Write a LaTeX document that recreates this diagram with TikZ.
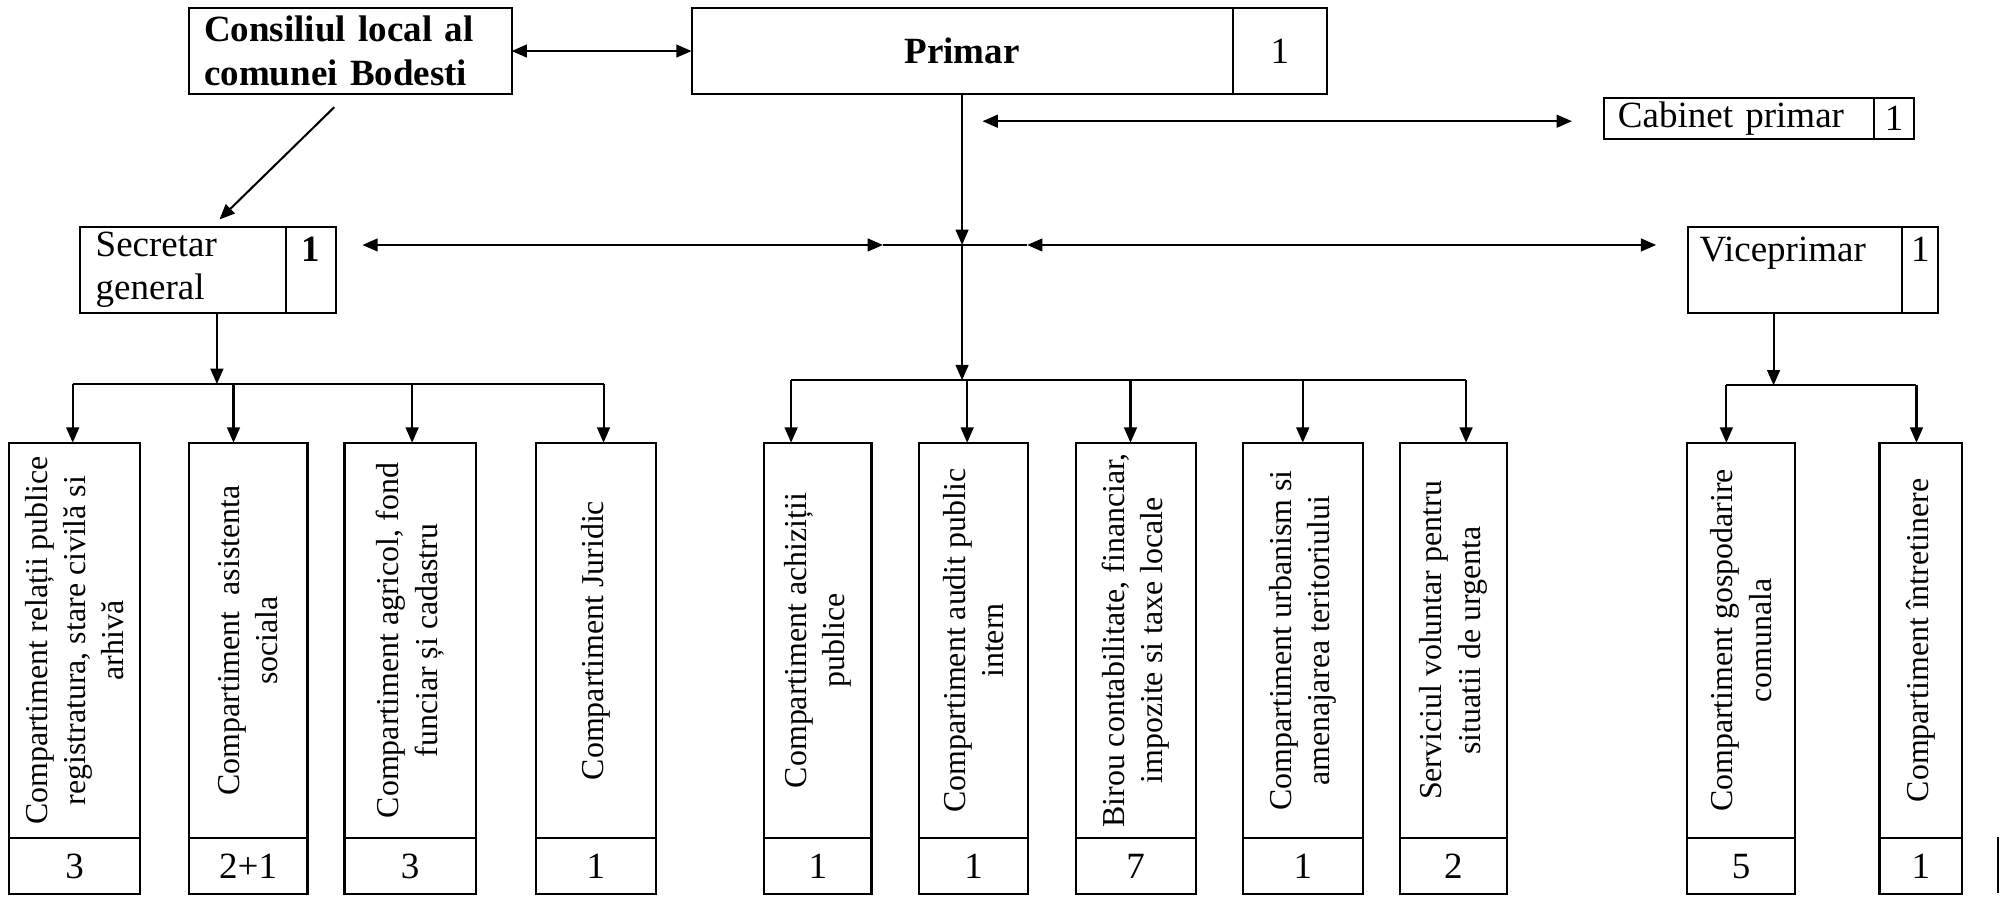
\documentclass[tikz,border=0pt]{standalone}
\usepackage{fontspec}
\setmainfont{Liberation Serif}
\usepackage{tikz}
\usetikzlibrary{arrows.meta}

\begin{document}
\begin{tikzpicture}[x=1pt, y=-1pt, line width=1.6pt,
                box/.style = {draw, inner sep=0pt, outer sep=0pt, font=\fontsize{29}{34}\selectfont},
                boldbox/.style = {box, font=\fontsize{29}{34}\selectfont\bfseries},
                unit/.style = {box, rotate=90, minimum width=310pt, align=center, font=\fontsize{25}{30}\selectfont},
                nr/.style = {box, minimum height=44pt},
                arr/.style = {-{Triangle[length=12pt, width=10pt]}},
                arr2/.style = {{Triangle[length=12pt, width=10pt]}-{Triangle[length=12pt, width=10pt]}}]
                \useasboundingbox (0, 0) rectangle (1570.6, 703);

                \node[boldbox, minimum width=253pt, minimum height=68pt, text width=229pt, align=left] at (274.5, 40) (cons) {Consiliul local al\\comunei Bodesti};
                \node[boldbox, minimum width=424pt, minimum height=68pt] at (754, 40) (prim) {Primar};
                \node[box, minimum width=74pt, minimum height=68pt] at (1003, 40) (primnr) {1};
                \node[box, minimum width=212pt, minimum height=32pt, text width=190pt, align=left] at (1363, 93) (cab) {Cabinet primar};
                \node[box, minimum width=31pt, minimum height=32pt] at (1484.5, 93) (cabnr) {1};

                \node[box, minimum width=161pt, minimum height=67pt, text width=137pt, align=left] at (143.5, 211.5) (sec) {Secretar\\general};
                \node[boldbox, minimum width=39pt, text height=27pt, text depth=40pt] at (243.5, 211.5) (secnr) {1};
                \node[box, minimum width=168pt, text width=150pt, align=left, text height=27pt, text depth=40pt] at (1407, 211.5) (vice) {Viceprimar};
                \node[box, minimum width=28pt, text height=27pt, text depth=40pt] at (1505, 211.5) (vicenr) {1};

                \node[unit, minimum height=103pt] at (58.5, 502) (u1) {Compartiment relații publice\\registratura, stare civilă si\\arhivă};
                \node[unit, minimum height=93pt] at (194.5, 502) (u2) {Compartiment~~asistenta\\sociala};
                \node[unit, minimum height=103pt] at (321.5, 502) (u3) {Compartiment agricol, fond\\funciar și cadastru};
                \node[unit, minimum height=94pt] at (467, 502) (u4) {Compartiment Juridic};
                \node[unit, minimum height=84pt] at (641, 502) (u5) {Compartiment achiziții\\publice};
                \node[unit, minimum height=85pt] at (763, 502) (u6) {Compartiment audit public\\intern};
                \node[unit, minimum height=94pt] at (890, 502) (u7) {Birou contabilitate, financiar,\\impozite si taxe locale};
                \node[unit, minimum height=94pt] at (1021, 502) (u8) {Compartiment urbanism si\\amenajarea teritoriului};
                \node[unit, minimum height=84pt] at (1139, 502) (u9) {Serviciul voluntar pentru\\situatii de urgenta};
                \node[unit, minimum height=84pt] at (1364.5, 502) (u10) {Compartiment gospodarire\\comunala};
                \node[unit, minimum height=65pt] at (1505.5, 502) (u11) {Compartiment întretinere};

                \node[nr, minimum width=103pt] at (58.5, 679) (n1) {3};
                \node[nr, minimum width=93pt] at (194.5, 679) (n2) {2+1};
                \node[nr, minimum width=103pt] at (321.5, 679) (n3) {3};
                \node[nr, minimum width=94pt] at (467, 679) (n4) {1};
                \node[nr, minimum width=84pt] at (641, 679) (n5) {1};
                \node[nr, minimum width=85pt] at (763, 679) (n6) {1};
                \node[nr, minimum width=94pt] at (890, 679) (n7) {7};
                \node[nr, minimum width=94pt] at (1021, 679) (n8) {1};
                \node[nr, minimum width=84pt] at (1139, 679) (n9) {2};
                \node[nr, minimum width=84pt] at (1364.5, 679) (n10) {5};
                \node[nr, minimum width=65pt] at (1505.5, 679) (n11) {1};

                \coordinate (consout) at (262, 84);
                \coordinate (secin) at (172, 172);
                \coordinate (hub) at (754, 192);
                \coordinate (pbus) at (754, 298);
                \coordinate (cabl) at (770, 95);
                \coordinate (cabr) at (1232, 95);
                \coordinate (sl) at (284, 192);
                \coordinate (hl) at (692, 192);
                \coordinate (hr) at (805, 192);
                \coordinate (vl) at (1298, 192);
                \coordinate (sbus) at (170, 301);
                \coordinate (vbus) at (1390, 302);
                \coordinate (a1) at (57, 301);
                \coordinate (a2) at (183, 301);
                \coordinate (a3) at (323, 301);
                \coordinate (a4) at (473, 301);
                \coordinate (b1) at (620, 298);
                \coordinate (b2) at (758, 298);
                \coordinate (b3) at (886, 298);
                \coordinate (b4) at (1021, 298);
                \coordinate (b5) at (1149, 298);
                \coordinate (c1) at (1353, 302);
                \coordinate (c2) at (1502, 302);

                \draw [arr2] (cons) -- (prim);
                \draw [arr] (consout) -- (secin);
                \draw [arr] (prim) -- (hub);
                \draw [arr] (hub) -- (pbus);
                \draw [arr2] (cabl) -- (cabr);
                \draw [arr2] (sl) -- (hl);
                \draw (hl) -- (hr);
                \draw [arr2] (hr) -- (vl);

                \draw [arr] (sec.south -| sbus) -- (sbus);
                \draw (a1) -- (a4);
                \draw [arr] (a1) -- (a1 |- u1.east);
                \draw [arr] (a2) -- (a2 |- u2.east);
                \draw [arr] (a3) -- (a3 |- u3.east);
                \draw [arr] (a4) -- (a4 |- u4.east);

                \draw (b1) -- (b5);
                \draw [arr] (b1) -- (b1 |- u5.east);
                \draw [arr] (b2) -- (b2 |- u6.east);
                \draw [arr] (b3) -- (b3 |- u7.east);
                \draw [arr] (b4) -- (b4 |- u8.east);
                \draw [arr] (b5) -- (b5 |- u9.east);

                \draw [arr] (vice.south -| vbus) -- (vbus);
                \draw (c1) -- (c2);
                \draw [arr] (c1) -- (c1 |- u10.east);
                \draw [arr] (c2) -- (c2 |- u11.east);

                \draw (1566, 656) -- (1566, 700);
                \end{tikzpicture}
\end{document}
